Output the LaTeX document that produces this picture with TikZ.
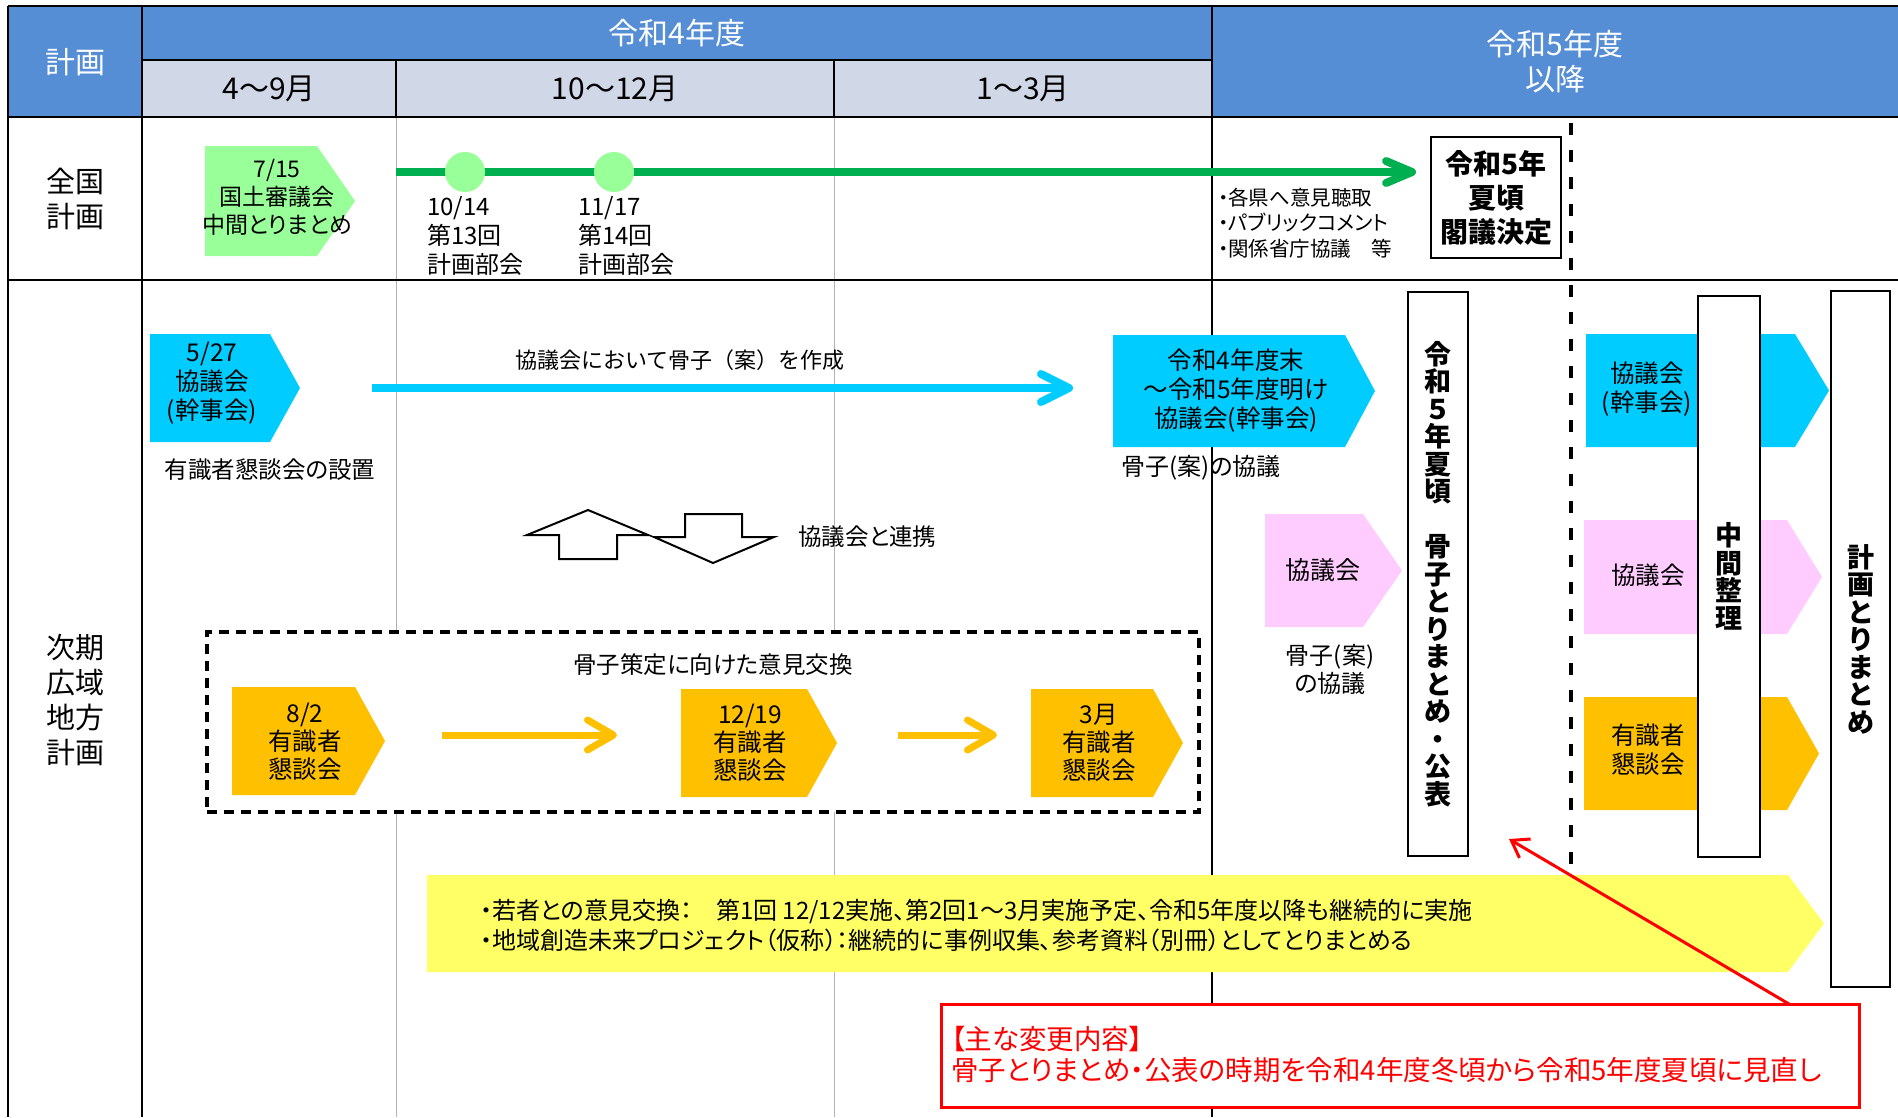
\documentclass[tikz,border=0pt]{standalone}
\usepackage{fontspec}
\setmainfont{Noto Sans CJK JP}[RawFeature={+palt}]
\newfontfamily\nopalt{Noto Sans CJK JP}
\usepackage{xcolor}
\usepackage{tikz}
\usetikzlibrary{arrows.meta}
\definecolor{hdrblue}{HTML}{558ED5}
\definecolor{subgray}{HTML}{D0D8E8}
\definecolor{linegreen}{HTML}{00B050}
\definecolor{palegreen}{HTML}{99FF99}
\definecolor{skyblue}{HTML}{00CCFF}
\definecolor{palepink}{HTML}{FFCCFF}
\definecolor{amber}{HTML}{FFC000}
\definecolor{paleyellow}{HTML}{FFFF66}

\begin{document}
\begin{tikzpicture}[x=1pt, y=-1pt,
    txt/.style={inner sep=0pt, align=center, font=\fontsize{23.5}{29}\selectfont},
    head/.style={txt, text=white, font=\fontsize{30}{35}\selectfont},
    month/.style={txt, font=\nopalt\fontsize{30}{35}\selectfont},
    rowlabel/.style={txt, font=\fontsize{29}{35}\selectfont},
    boxtxt/.style={txt, font=\fontsize{24.5}{29}\selectfont},
    boldbox/.style={draw, line width=2pt, fill=white, inner sep=0pt, align=center},
    vtext/.style={font=\bfseries\fontsize{27}{27.5}\selectfont},
    tblline/.style={line width=2.5pt},
    faintline/.style={gray!60, line width=1pt},
    fatarrow/.style={line width=8pt, -{Straight Barb[length=28pt, width=28pt, round]}},
    redarrow/.style={red, line width=3pt, -{Straight Barb[length=16pt, width=22pt]}}
]
    \useasboundingbox (0,0) rectangle (1898,1117);

    % table frame
    \fill[hdrblue] (8,6) rectangle (1898,117);
    \fill[subgray] (142,60) rectangle (1212,117);
    \draw[faintline] (396,117) -- (396,1117);
    \draw[faintline] (834,117) -- (834,1117);
    \draw[tblline] (8,6) -- (1898,6);
    \draw[tblline] (8,6) -- (8,1117);
    \draw[tblline] (142,6) -- (142,1117);
    \draw[tblline] (1212,6) -- (1212,1117);
    \draw[tblline] (142,60) -- (1212,60);
    \draw[tblline] (396,60) -- (396,117);
    \draw[tblline] (834,60) -- (834,117);
    \draw[tblline] (8,117) -- (1898,117);
    \draw[tblline] (8,280) -- (1898,280);

    \node[head] (hplan) at (75,62) {計画};
    \node[head] (hr4) at (677,33) {令和4年度};
    \node[head] (hr5) at (1555,62) {令和5年度\\以降};
    \node[month] (m49) at (269,89) {4～9月};
    \node[month] (m1012) at (615,89) {10～12月};
    \node[month] (m13) at (1023,89) {1～3月};
    \node[rowlabel] (rnat) at (75,199) {全国\\計画};
    \node[rowlabel] (rreg) at (75,700) {次期\\広域\\地方\\計画};

    % national plan row
    \fill[palegreen] (205,146) -- (317,146) -- (355,201) -- (317,256) -- (205,256) -- cycle;
    \node[txt, font=\fontsize{23}{28}\selectfont] (mid715) at (277,197) {7/15\\国土審議会\\中間とりまとめ};
    \coordinate (gstart) at (396,172);
    \coordinate (gend) at (1416,172);
    \draw[linegreen, line width=8pt, -{Straight Barb[length=26pt, width=22pt, round]}] (gstart) -- (gend);
    \node[circle, fill=palegreen, minimum size=40pt, inner sep=0pt] (c1014) at (465,172) {};
    \node[circle, fill=palegreen, minimum size=40pt, inner sep=0pt] (c1117) at (614,172) {};
    \node[txt, anchor=north west, align=left, font=\fontsize{24}{29}\selectfont] (l1014) at (427,196) {10/14\\第13回\\計画部会};
    \node[txt, anchor=north west, align=left, font=\fontsize{24}{29}\selectfont] (l1117) at (578,196) {11/17\\第14回\\計画部会};
    \node[txt, anchor=west, align=left, font=\fontsize{20.5}{25.5}\selectfont] (steps) at (1218,223)
        {・各県へ意見聴取\\・パブリックコメント\\・関係省庁協議　等};
    \node[boldbox, font=\bfseries\fontsize{28}{34}\selectfont, minimum width=130pt, minimum height=121pt] (cabinet) at (1496,197.5) {令和5年\\夏頃\\閣議決定};
    \coordinate (dtop) at (1571,123);
    \coordinate (dbot) at (1571,870);
    \draw[line width=4pt, dash pattern=on 12pt off 15pt] (dtop) -- (dbot);

    % regional plan row
    \fill[skyblue] (150,334) -- (270,334) -- (300,388) -- (270,442) -- (150,442) -- cycle;
    \node[boxtxt] (kyo527) at (212,383) {5/27\\協議会\\(幹事会)};
    \node[txt] (expert) at (270,470) {有識者懇談会の設置};
    \fill[skyblue] (1113,335) -- (1345,335) -- (1375,391) -- (1345,447) -- (1113,447) -- cycle;
    \node[boxtxt] (kyoend) at (1236,391) {令和4年度末\\～令和5年度明け\\協議会(幹事会)};
    \node[txt, anchor=west, font=\fontsize{24}{29}\selectfont] (draft1) at (1121,468) {骨子(案)の協議};
    \coordinate (bstart) at (372,388);
    \coordinate (bend) at (1073,388);
    \draw[skyblue, fatarrow] (bstart) -- (bend);
    \node[txt, font=\nopalt\fontsize{22}{29}\selectfont] (make) at (680,360) {協議会において骨子（案）を作成};

    \draw[line width=2pt, fill=white] (588,510) -- (648,535) -- (617,535) -- (617,559) -- (559,559) -- (559,535) -- (527,535) -- cycle;
    \draw[line width=2pt, fill=white] (685,514) -- (742,514) -- (742,537) -- (774,537) -- (713,563) -- (654,537) -- (685,537) -- cycle;
    \node[txt, anchor=west] (link) at (798,537) {協議会と連携};

    \fill[palepink] (1265,514) -- (1363,514) -- (1402,570.5) -- (1363,627) -- (1265,627) -- cycle;
    \node[boxtxt, font=\fontsize{25}{29}\selectfont] (kyo) at (1323,570) {協議会};
    \node[txt, font=\fontsize{24}{28}\selectfont] (draft2) at (1330,669) {骨子(案)\\の協議};

    \node[draw, fill=white, line width=3.5pt, dash pattern=on 10pt off 7pt, minimum width=992pt, minimum height=180pt] (exbox) at (703,722) {};
    \node[txt] (extitle) at (713,665) {骨子策定に向けた意見交換};
    \fill[amber] (232,687) -- (355,687) -- (385,741) -- (355,795) -- (232,795) -- cycle;
    \node[boxtxt, font=\fontsize{24.5}{28}\selectfont] (ex82) at (305,742) {8/2\\有識者\\懇談会};
    \fill[amber] (681,689) -- (807,689) -- (837,743) -- (807,797) -- (681,797) -- cycle;
    \node[boxtxt, font=\fontsize{24.5}{28}\selectfont] (ex1219) at (750,743) {12/19\\有識者\\懇談会};
    \fill[amber] (1031,689) -- (1153,689) -- (1183,743) -- (1153,797) -- (1031,797) -- cycle;
    \node[boxtxt, font=\fontsize{24.5}{28}\selectfont] (ex3) at (1099,743) {3月\\有識者\\懇談会};
    \coordinate (o1s) at (442,735);
    \coordinate (o1e) at (617,735);
    \coordinate (o2s) at (898,735);
    \coordinate (o2e) at (997,735);
    \draw[amber, line width=7pt, -{Straight Barb[length=26pt, width=30pt, round]}] (o1s) -- (o1e);
    \draw[amber, line width=7pt, -{Straight Barb[length=26pt, width=30pt, round]}] (o2s) -- (o2e);

    \fill[paleyellow] (427,875) -- (1788,875) -- (1824,923.5) -- (1788,972) -- (427,972) -- cycle;
    \node[txt, anchor=west, align=left, font=\fontsize{24}{30}\selectfont] (youth) at (480,925)
        {・若者との意見交換：　第1回 12/12実施、第2回1～3月実施予定、令和5年度以降も継続的に実施\\・地域創造未来プロジェクト（仮称）：継続的に事例収集、参考資料（別冊）としてとりまとめる};

    % after FY2023
    \fill[skyblue] (1586,334) -- (1795,334) -- (1829,390.5) -- (1795,447) -- (1586,447) -- cycle;
    \node[boxtxt] (rkyo1) at (1647,389) {協議会\\(幹事会)};
    \fill[palepink] (1584,520) -- (1787,520) -- (1822,577) -- (1787,634) -- (1584,634) -- cycle;
    \node[boxtxt] (rkyo2) at (1648,575) {協議会};
    \fill[amber] (1584,697) -- (1787,697) -- (1819,753.5) -- (1787,810) -- (1584,810) -- cycle;
    \node[boxtxt] (rexp) at (1648,750) {有識者\\懇談会};

    \node[boldbox, vtext, minimum width=60pt, minimum height=564pt] (sumbox) at (1438,574)
        {令\\和\\５\\年\\夏\\頃\\　\\骨\\子\\と\\り\\ま\\と\\め\\・\\公\\表};
    \node[boldbox, vtext, minimum width=62pt, minimum height=561pt] (midbox) at (1729,576.5) {中\\間\\整\\理};
    \node[boldbox, vtext, minimum width=59pt, minimum height=696pt] (finbox) at (1860.5,639) {計\\画\\と\\り\\ま\\と\\め};

    % change note
    \node[draw=red, line width=3pt, fill=white, minimum width=918pt, minimum height=103pt] (chgbox) at (1400,1055.5) {};
    \node[txt, anchor=west, align=left, text=red, font=\fontsize{27.5}{31}\selectfont] (chg) at (951,1055)
        {【主な変更内容】\\骨子とりまとめ・公表の時期を令和4年度冬頃から令和5年度夏頃に見直し};
    \coordinate (rtail) at (1789,1004);
    \coordinate (rtip) at (1509,839);
    \draw[redarrow] (rtail) -- (rtip);
\end{tikzpicture}
\end{document}
